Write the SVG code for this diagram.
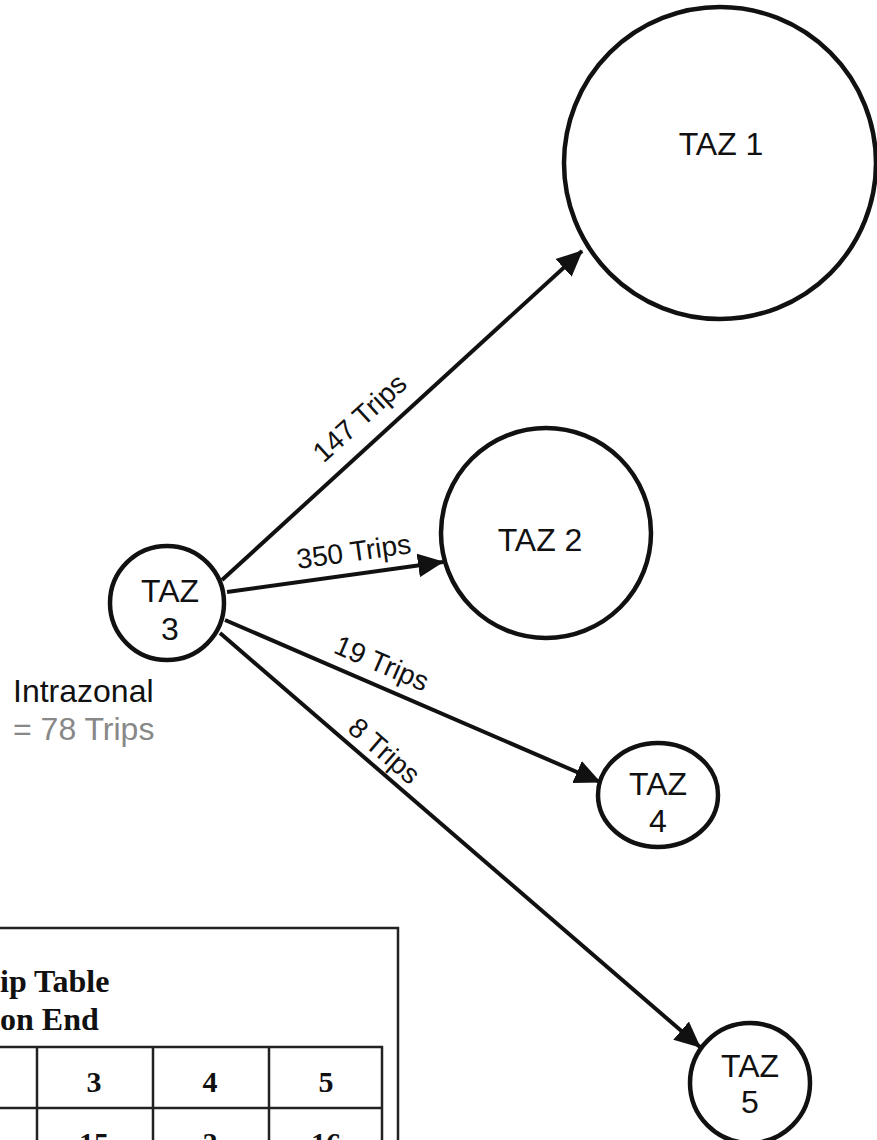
<svg xmlns="http://www.w3.org/2000/svg" width="877" height="1140" viewBox="0 0 877 1140">
<style>
.node{fill:none;stroke:#111;stroke-width:4.5}
.lbl{font-family:"Liberation Sans",Arial,sans-serif;font-size:32px;fill:#111;text-anchor:middle}
.elbl{font-family:"Liberation Sans",Arial,sans-serif;font-size:28px;fill:#111;text-anchor:middle}
.edge{fill:none;stroke:#111;stroke-width:4}
.tbl{fill:none;stroke:#222;stroke-width:2.5}
.tt{font-family:"Liberation Serif","Times New Roman",serif;font-weight:bold;font-size:32px;fill:#111}
.tn{font-family:"Liberation Serif","Times New Roman",serif;font-weight:bold;font-size:30px;fill:#111;text-anchor:middle}
</style>
<defs>
<marker id="ah" viewBox="0 0 26 26" refX="25" refY="13" markerWidth="26" markerHeight="26" markerUnits="userSpaceOnUse" orient="auto">
<path d="M0,1 L26,13 L0,25 z" fill="#111"/>
</marker>
</defs>
<rect width="877" height="1140" fill="#fff"/>

<g id="connectors">
<line class="edge" x1="222" y1="580" x2="582" y2="251" marker-end="url(#ah)"/>
<line class="edge" x1="227" y1="592" x2="443" y2="562" stroke-width="5" marker-end="url(#ah)"/>
<line class="edge" x1="225" y1="620" x2="600" y2="782" stroke="#333" stroke-width="3.5" marker-end="url(#ah)"/>
<line class="edge" x1="220" y1="633" x2="700" y2="1047" stroke="#333" marker-end="url(#ah)"/>
<text class="elbl" transform="translate(366,425) rotate(-42.4)">147 Trips</text>
<text class="elbl" transform="translate(355,561) rotate(-8)">350 Trips</text>
<text class="elbl" transform="translate(378,672) rotate(23.4)">19 Trips</text>
<text class="elbl" transform="translate(378,758) rotate(41)" fill="#666">8 Trips</text>
</g>

<g id="taz1">
<circle class="node" cx="720" cy="163" r="156"/>
<text class="lbl" x="721" y="155">TAZ 1</text>
</g>

<g id="taz2">
<circle class="node" cx="546" cy="533" r="105"/>
<text class="lbl" x="540" y="551">TAZ 2</text>
</g>

<g id="taz3">
<circle class="node" cx="167" cy="603" r="57"/>
<text class="lbl" x="170" y="602">TAZ</text>
<text class="lbl" x="170" y="640">3</text>
</g>

<g id="intrazonal">
<text class="lbl" x="13" y="702" style="text-anchor:start">Intrazonal</text>
<text class="lbl" x="13" y="740" style="text-anchor:start;fill:#888">= 78 Trips</text>
</g>

<g id="taz4">
<ellipse class="node" cx="658" cy="795" rx="60" ry="52" stroke="#555"/>
<text class="lbl" x="658" y="795" fill="#444">TAZ</text>
<text class="lbl" x="658" y="832" fill="#444">4</text>
</g>

<g id="taz5">
<circle class="node" cx="750" cy="1083" r="60"/>
<text class="lbl" x="750" y="1077">TAZ</text>
<text class="lbl" x="750" y="1113">5</text>
</g>

<g id="table">
<path class="tbl" d="M-5,928 H398 V1145"/>
<text class="tt" x="0" y="992">ip Table</text>
<text class="tt" x="0" y="1030">on End</text>
<path class="tbl" d="M-5,1047 H382 V1145 M-5,1108 H382 M37,1047 V1145 M153,1047 V1145 M269,1047 V1145"/>
<text class="tn" x="94" y="1092">3</text>
<text class="tn" x="210" y="1092">4</text>
<text class="tn" x="326" y="1092">5</text>
<text class="tn" x="94" y="1153">15</text>
<text class="tn" x="210" y="1153">2</text>
<text class="tn" x="326" y="1153">16</text>
</g>
</svg>
